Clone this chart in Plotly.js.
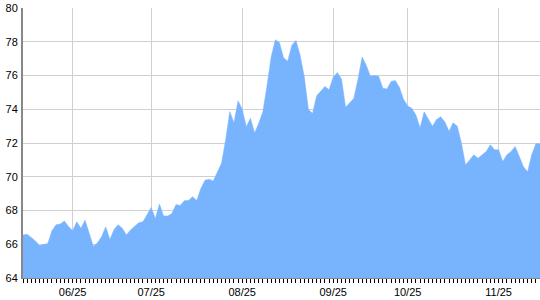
<!DOCTYPE html>
<html>
<head>
<meta charset="utf-8">
<script src="https://cdn.plot.ly/plotly-3.0.1.min.js"></script>
<style>html,body{margin:0;padding:0;background:#fff;}#chart{width:540px;height:300px;}</style>
</head>
<body>
<div id="chart"></div>
<script>
// values per trading day (index along the x axis)
const values = [
  66.55, 66.6, 66.4, 66.2, 65.92, 65.98, 66.05, 66.8, 67.15, 67.2,
  67.38, 67.05, 66.8, 67.33, 66.95, 67.43, 66.7, 65.88, 66.08, 66.45,
  67.03, 66.28, 66.87, 67.15, 66.95, 66.55, 66.85, 67.05, 67.27, 67.33,
  67.78, 68.18, 67.53, 68.38, 67.68, 67.68, 67.82, 68.35, 68.3, 68.58,
  68.6, 68.81, 68.6, 69.3, 69.8, 69.85, 69.75, 70.3, 70.8, 72.2,
  73.86, 73.2, 74.51, 74.0, 72.97, 73.47, 72.6, 73.17, 73.85, 75.4,
  77.1, 78.12, 77.96, 77.05, 76.85, 77.8, 78.08, 77.2, 75.94, 74.0,
  73.75, 74.8, 75.1, 75.35, 75.15, 75.9, 76.18, 75.8, 74.12, 74.4,
  74.65, 75.8, 77.1, 76.6, 75.95, 76.0, 75.95, 75.25, 75.2, 75.65,
  75.7, 75.3, 74.6, 74.2, 74.06, 73.66, 72.9, 73.85, 73.4, 73.0,
  73.4, 73.55, 73.25, 72.7, 73.2, 73.0, 72.0, 70.7, 71.0, 71.3,
  71.1, 71.3, 71.5, 71.9, 71.6, 71.6, 70.9, 71.3, 71.5, 71.8,
  71.2, 70.6, 70.3, 71.3, 71.95, 71.95
];
const dayIndex = values.map((v, i) => i);
const tickIndex = [12, 31, 53, 75, 93, 115];
const tickLabels = ["06/25", "07/25", "08/25", "09/25", "10/25", "11/25"];

const trace = {
  x: dayIndex,
  y: values,
  type: 'scatter',
  mode: 'lines',
  fill: 'tozeroy',
  fillcolor: '#78b4fe',
  line: {color: '#78b4fe', width: 0.5},
  hoverinfo: 'skip'
};

const layout = {
  width: 540, height: 300,
  margin: {l: 23, r: 0, t: 8, b: 22, pad: 0},
  paper_bgcolor: '#fff', plot_bgcolor: '#fff',
  showlegend: false,
  font: {family: 'Liberation Sans, Arial, sans-serif', size: 11, color: '#000'},
  xaxis: {
    range: [0, values.length - 1],
    tickmode: 'array', tickvals: tickIndex, ticktext: tickLabels,
    showgrid: true, gridcolor: '#d0d0d0', gridwidth: 1,
    ticks: 'outside', ticklen: 4, tickcolor: '#000', tickwidth: 1,
    minor: {tickmode: 'linear', tick0: 0, dtick: 1, ticks: 'outside', ticklen: 4, tickcolor: '#000', tickwidth: 1, showgrid: false},
    showline: true, linecolor: '#888', linewidth: 1,
    zeroline: false, fixedrange: true
  },
  yaxis: {
    range: [64, 80], dtick: 2, tick0: 64,
    showgrid: true, gridcolor: '#d0d0d0', gridwidth: 1,
    ticks: '', ticklabelstandoff: 1,
    showline: true, linecolor: '#888', linewidth: 2,
    zeroline: false, fixedrange: true
  }
};

Plotly.newPlot('chart', [trace], layout, {displayModeBar: false, staticPlot: true});
</script>
</body>
</html>
